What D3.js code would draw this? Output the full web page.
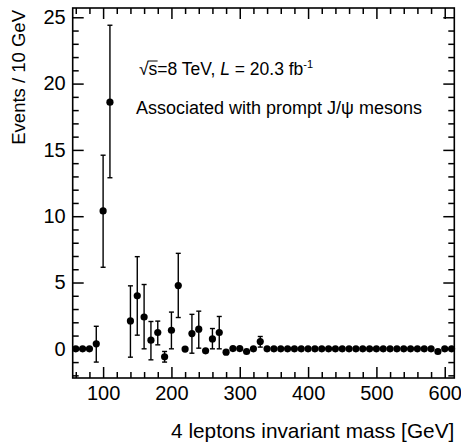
<!DOCTYPE html>
<html>
<head>
<meta charset="utf-8">
<script src="https://cdn.jsdelivr.net/npm/d3@7"></script>
<style>
  html, body { margin: 0; padding: 0; background: #fff; }
  svg { display: block; font-family: "Liberation Sans", Arial, sans-serif; }
</style>
</head>
<body>
<svg id="chart" width="461" height="448"></svg>
<script>
// ---- data ----
const massCenters = [60, 70, 80, 90, 100, 110, 140, 150, 160, 170, 180, 190, 200, 210, 220, 230, 240, 250, 260, 270, 280, 290, 300, 310, 320, 330,
  340, 350, 360, 370, 380, 390, 400, 410, 420, 430, 440, 450, 460, 470, 480, 490, 500, 510, 520, 530, 540, 550, 560, 570, 580, 590, 600, 610];
const eventValues = [0, 0, 0, 0.38, 10.4, 18.6, 2.1, 4.0, 2.4, 0.65, 1.23, -0.6, 1.4, 4.77, -0.02, 1.15, 1.48, -0.15, 0.75, 1.23, -0.25, 0.02, 0.02, -0.2, 0, 0.55,
  0, 0, 0, 0, 0, 0, 0, 0, 0, 0, 0, 0, 0, 0, 0, 0, 0, 0, 0, 0, 0, 0, 0, 0, 0, -0.2, 0, 0];
const errHigh = [null, null, null, 1.7, 14.6, 24.4, 4.75, 6.95, 4.85, 2.06, 2.09, -0.2, 2.77, 7.2, null, 2.6, 2.84, null, 1.53, 2.44, null, null, null, null, null, 0.93,
  null, null, null, null, null, null, null, null, null, null, null, null, null, null, null, null, null, null, null, null, null, null, null, null, null, null, null, null];
const errLow = [null, null, null, -1.0, 6.15, 12.9, -0.63, 1.03, 0.0, -0.83, 0.3, -1.0, 0.0, 2.36, null, -0.33, 0.05, null, 0.0, 0.0, null, null, null, null, null, 0.13,
  null, null, null, null, null, null, null, null, null, null, null, null, null, null, null, null, null, null, null, null, null, null, null, null, null, null, null, null];

const xDomain = [55.5, 614];
const yDomain = [-2.2, 25.7];
const xMajorTicks = [100, 200, 300, 400, 500, 600];
const xMinorTicks = [60, 80, 120, 140, 160, 180, 220, 240, 260, 280, 320, 340, 360, 380, 420, 440, 460, 480, 520, 540, 560, 580];
const yMajorTicks = [0, 5, 10, 15, 20, 25];
const yMinorTicks = [-2, -1, 1, 2, 3, 4, 6, 7, 8, 9, 11, 12, 13, 14, 16, 17, 18, 19, 21, 22, 23, 24];

const xTitle = "4 leptons invariant mass [GeV]";
const yTitle = "Events / 10 GeV";

// ---- layout ----
const fLeft = 72.7, fRight = 454.3, fTop = 8, fBottom = 378;
const svg = d3.select("#chart");
const x = d3.scaleLinear().domain(xDomain).range([fLeft, fRight]);
const y = d3.scaleLinear().domain(yDomain).range([fBottom, fTop]);

const data = massCenters.map((m, i) => ({ m, v: eventValues[i], hi: errHigh[i], lo: errLow[i] }));

// ---- axes (ROOT-style: ticks inside, mirrored) ----
const majorLen = 11, minorLen = 6;
function tickGroup(axisGen, transform) {
  const g = svg.append("g").attr("transform", transform).call(axisGen);
  g.select(".domain").remove();
  g.selectAll(".tick line").attr("stroke", "#000").attr("stroke-width", 1.5);
  return g;
}
tickGroup(d3.axisTop(x).tickValues(xMajorTicks).tickSize(majorLen).tickFormat(""), `translate(0,${fBottom})`);
tickGroup(d3.axisTop(x).tickValues(xMinorTicks).tickSize(minorLen).tickFormat(""), `translate(0,${fBottom})`);
tickGroup(d3.axisBottom(x).tickValues(xMajorTicks).tickSize(majorLen).tickFormat(""), `translate(0,${fTop})`);
tickGroup(d3.axisBottom(x).tickValues(xMinorTicks).tickSize(minorLen).tickFormat(""), `translate(0,${fTop})`);
tickGroup(d3.axisRight(y).tickValues(yMajorTicks).tickSize(majorLen).tickFormat(""), `translate(${fLeft},0)`);
tickGroup(d3.axisRight(y).tickValues(yMinorTicks).tickSize(minorLen).tickFormat(""), `translate(${fLeft},0)`);
tickGroup(d3.axisLeft(y).tickValues(yMajorTicks).tickSize(majorLen).tickFormat(""), `translate(${fRight},0)`);
tickGroup(d3.axisLeft(y).tickValues(yMinorTicks).tickSize(minorLen).tickFormat(""), `translate(${fRight},0)`);

// tick labels
const xl = svg.append("g").attr("transform", `translate(0,${fBottom})`)
  .call(d3.axisBottom(x).tickValues(xMajorTicks).tickSize(0).tickPadding(8).tickFormat(d3.format("d")));
xl.select(".domain").remove();
xl.selectAll("text").attr("font-size", 20).attr("fill", "#000").attr("font-family", "Liberation Sans, Arial, sans-serif");
const yl = svg.append("g").attr("transform", `translate(${fLeft},0)`)
  .call(d3.axisLeft(y).tickValues(yMajorTicks).tickSize(0).tickPadding(7).tickFormat(d3.format("d")));
yl.select(".domain").remove();
yl.selectAll("text").attr("font-size", 20).attr("fill", "#000").attr("font-family", "Liberation Sans, Arial, sans-serif");

// frame
svg.append("rect").attr("x", fLeft).attr("y", fTop).attr("width", fRight - fLeft).attr("height", fBottom - fTop)
  .attr("fill", "none").attr("stroke", "#000").attr("stroke-width", 1.6);

// axis titles
svg.append("text").attr("x", fRight).attr("y", 438).attr("text-anchor", "end")
  .attr("font-size", 20.8).text(xTitle);
svg.append("text").attr("transform", `translate(25,${fTop + 2}) rotate(-90)`).attr("text-anchor", "end")
  .attr("font-size", 18.5).text(yTitle);

// ---- data marks ----
const plot = svg.append("g");
const withErr = data.filter(d => d.hi !== null);
const capW = 2.5;
plot.selectAll("line.err").data(withErr).join("line").attr("class", "err")
  .attr("x1", d => x(d.m)).attr("x2", d => x(d.m))
  .attr("y1", d => y(d.hi)).attr("y2", d => y(d.lo))
  .attr("stroke", "#000").attr("stroke-width", 1.4);
plot.selectAll("line.capHi").data(withErr).join("line").attr("class", "capHi")
  .attr("x1", d => x(d.m) - capW).attr("x2", d => x(d.m) + capW)
  .attr("y1", d => y(d.hi)).attr("y2", d => y(d.hi))
  .attr("stroke", "#000").attr("stroke-width", 1.4);
plot.selectAll("line.capLo").data(withErr).join("line").attr("class", "capLo")
  .attr("x1", d => x(d.m) - capW).attr("x2", d => x(d.m) + capW)
  .attr("y1", d => y(d.lo)).attr("y2", d => y(d.lo))
  .attr("stroke", "#000").attr("stroke-width", 1.4);
plot.selectAll("circle.pt").data(data).join("circle").attr("class", "pt")
  .attr("cx", d => x(d.m)).attr("cy", d => y(d.v)).attr("r", 3.6).attr("fill", "#000");

// ---- annotation ----
const t1 = svg.append("text").attr("x", 139).attr("y", 75).attr("font-size", 17.5);
t1.append("tspan").text("√");
const sSpan = t1.append("tspan").text("s");
t1.append("tspan").text("=8 TeV, ");
t1.append("tspan").attr("font-style", "italic").text("L");
t1.append("tspan").text(" = 20.3 fb");
t1.append("tspan").attr("font-size", 11).attr("dy", -7).text("-1");
const sb = sSpan.node().getBBox();
svg.append("line").attr("x1", sb.x - 1).attr("x2", sb.x + sb.width).attr("y1", sb.y + 2).attr("y2", sb.y + 2)
  .attr("stroke", "#000").attr("stroke-width", 1);

svg.append("text").attr("x", 136).attr("y", 114).attr("font-size", 18)
  .text("Associated with prompt J/ψ mesons");
</script>
</body>
</html>
